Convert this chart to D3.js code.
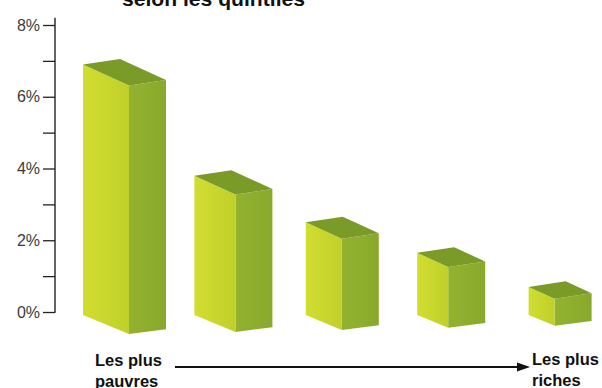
<!DOCTYPE html>
<html>
<head>
<meta charset="utf-8">
<script src="https://cdn.jsdelivr.net/npm/d3@7"></script>
<style>
  html, body { margin: 0; padding: 0; background: #fff; }
  svg { display: block; }
  text { font-family: "Liberation Sans", Arial, Helvetica, sans-serif; }
</style>
</head>
<body>
<svg id="chart" width="602" height="388"></svg>
<script>
// ---- data ----
const categories = ["1er quintile", "2e quintile", "3e quintile", "4e quintile", "5e quintile"];
const values = [6.9, 3.8, 2.5, 1.65, 0.7];
const majorTicks = [0, 2, 4, 6, 8];
const minorTicks = [1, 3, 5, 7];
const title = "selon les quintiles";
const leftLabel = ["Les plus", "pauvres"];
const rightLabel = ["Les plus", "riches"];

// ---- layout ----
const svg = d3.select("#chart");
const W = 602, H = 388;
const axisX = 55;

const y = d3.scaleLinear().domain([0, 8]).range([312, 25]);
const x = d3.scaleBand().domain(categories).range([83, 640]).padding(0);
const frontW = d3.scaleLinear().domain([0, categories.length - 1]).range([46, 26]);
const depth = 37, slopeFront = 0.46, slopeSide = 0.15;

// gradient for front faces
const defs = svg.append("defs");
const g1 = defs.append("linearGradient").attr("id", "front").attr("x1", "0").attr("x2", "1").attr("y1", "0").attr("y2", "0");
g1.append("stop").attr("offset", "0").attr("stop-color", "#d2dd30");
g1.append("stop").attr("offset", "1").attr("stop-color", "#c0d02a");
const g2 = defs.append("linearGradient").attr("id", "side").attr("x1", "0").attr("x2", "1").attr("y1", "0").attr("y2", "0");
g2.append("stop").attr("offset", "0").attr("stop-color", "#93b22f");
g2.append("stop").attr("offset", "1").attr("stop-color", "#88a92c");

// title (partly cut off at the top)
svg.append("text")
  .attr("x", 122).attr("y", 6)
  .attr("font-size", 21).attr("font-weight", "bold").attr("fill", "#111")
  .attr("textLength", 183).attr("lengthAdjust", "spacingAndGlyphs")
  .text(title);

// axis
const axis = d3.axisLeft(y).tickValues(majorTicks).tickSize(12).tickPadding(3)
  .tickFormat(d => d + "%");
const ax = svg.append("g").attr("transform", `translate(${axisX},0)`).call(axis);
ax.select(".domain").remove();
ax.selectAll(".tick line").attr("stroke", "#222").attr("stroke-width", 1.3);
ax.selectAll(".tick text").attr("font-size", 16).attr("fill", "#3c3c3c")
  .style("font-family", "'Liberation Sans', Arial, sans-serif");
const axMinor = d3.axisLeft(y).tickValues(minorTicks).tickSize(12).tickFormat("");
const ax2 = svg.append("g").attr("transform", `translate(${axisX},0)`).call(axMinor);
ax2.select(".domain").remove();
ax2.selectAll(".tick line").attr("stroke", "#222").attr("stroke-width", 1.3);
svg.append("line")
  .attr("x1", axisX).attr("x2", axisX)
  .attr("y1", y(0) + 0.7).attr("y2", y(8.2))
  .attr("stroke", "#222").attr("stroke-width", 1.4);

// bars (3D boxes)
const bars = svg.append("g").selectAll("g").data(values).join("g");
bars.each(function (v, i) {
  const g = d3.select(this);
  const x0 = x(categories[i]);
  const fw = frontW(i);
  const yt = y(v);
  const yb = y(0) + 3;
  const dyF = fw * slopeFront;
  const dyS = depth * slopeSide;
  const FLt = [x0, yt], FRt = [x0 + fw, yt + dyF];
  const BRt = [x0 + fw + depth, yt + dyF - dyS], BLt = [x0 + depth, yt - dyS];
  const FLb = [x0, yb], FRb = [x0 + fw, yb + dyF * 0.9];
  const BRb = [x0 + fw + depth, yb + dyF * 0.9 - dyS * 0.85];
  const poly = pts => pts.map(p => p.join(",")).join(" ");
  g.append("polygon").attr("points", poly([FRt, BRt, BRb, FRb])).attr("fill", "url(#side)");
  g.append("polygon").attr("points", poly([FLt, FRt, FRb, FLb])).attr("fill", "url(#front)");
  g.append("polygon").attr("points", poly([FLt, BLt, BRt, FRt])).attr("fill", "#7a9b27");
});

// bottom labels + arrow
const lab = svg.append("g").attr("font-size", 16.5).attr("font-weight", "bold").attr("fill", "#111");
leftLabel.forEach((t, k) => lab.append("text").attr("x", 95).attr("y", 366 + k * 21).text(t));
rightLabel.forEach((t, k) => lab.append("text").attr("x", 532).attr("y", 365 + k * 21).text(t));
svg.append("line").attr("x1", 175).attr("x2", 520).attr("y1", 367).attr("y2", 367)
  .attr("stroke", "#111").attr("stroke-width", 2);
svg.append("polygon").attr("points", "517,362.5 530,367 517,371.5").attr("fill", "#111");
</script>
</body>
</html>
